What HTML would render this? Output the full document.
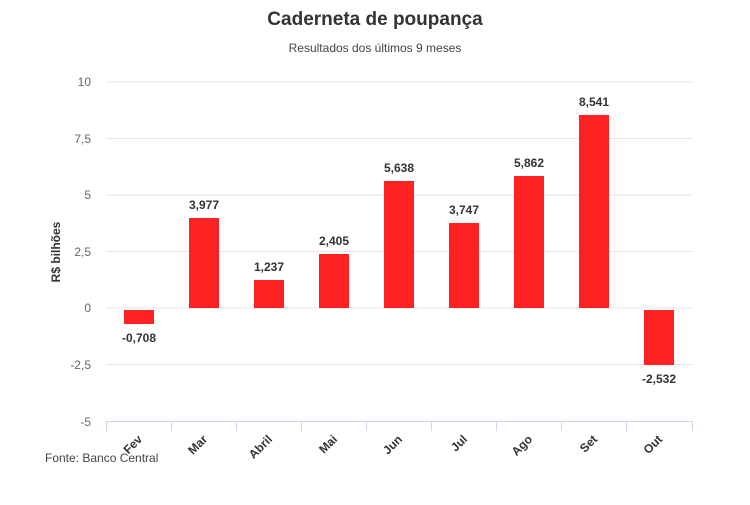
<!DOCTYPE html>
<html><head><meta charset="utf-8"><style>
body{margin:0;background:#fff;}
svg text{font-family:"Liberation Sans",sans-serif;}
</style></head><body>
<svg width="750" height="500" xmlns="http://www.w3.org/2000/svg">
<text x="375" y="25" text-anchor="middle" font-size="19" font-weight="bold" fill="#333">Caderneta de poupança</text>
<text x="375" y="52" text-anchor="middle" font-size="12" fill="#444">Resultados dos últimos 9 meses</text>
<g stroke="#e6e6e6" stroke-width="1">
<line x1="106" x2="693" y1="82" y2="82"/>
<line x1="106" x2="693" y1="138.5" y2="138.5"/>
<line x1="106" x2="693" y1="195" y2="195"/>
<line x1="106" x2="693" y1="251.5" y2="251.5"/>
<line x1="106" x2="693" y1="308" y2="308"/>
<line x1="106" x2="693" y1="364.5" y2="364.5"/>
</g>
<g stroke="#ccd6eb" stroke-width="1">
<line x1="106" x2="693" y1="421.5" y2="421.5"/>
<line x1="106.5" x2="106.5" y1="421" y2="431"/>
<line x1="171.5" x2="171.5" y1="421" y2="431"/>
<line x1="236.5" x2="236.5" y1="421" y2="431"/>
<line x1="301.5" x2="301.5" y1="421" y2="431"/>
<line x1="366.5" x2="366.5" y1="421" y2="431"/>
<line x1="431.5" x2="431.5" y1="421" y2="431"/>
<line x1="496.5" x2="496.5" y1="421" y2="431"/>
<line x1="561.5" x2="561.5" y1="421" y2="431"/>
<line x1="626.5" x2="626.5" y1="421" y2="431"/>
<line x1="692.5" x2="692.5" y1="421" y2="431"/>
</g>
<g font-size="12" fill="#666" text-anchor="end">
<text x="91" y="86">10</text>
<text x="91" y="143">7,5</text>
<text x="91" y="199">5</text>
<text x="91" y="256">2,5</text>
<text x="91" y="312">0</text>
<text x="91" y="369">-2,5</text>
<text x="91" y="426">-5</text>
</g>
<text transform="translate(60,252) rotate(-90)" text-anchor="middle" font-size="12" font-weight="bold" fill="#333">R$ bilhões</text>
<g fill="#ff2222">
<rect x="124" y="310" width="30" height="14"/>
<rect x="189" y="218" width="30" height="90"/>
<rect x="254" y="280" width="30" height="28"/>
<rect x="319" y="254" width="30" height="54"/>
<rect x="384" y="181" width="30" height="127"/>
<rect x="449" y="223" width="30" height="85"/>
<rect x="514" y="176" width="30" height="132"/>
<rect x="579" y="115" width="30" height="193"/>
<rect x="644" y="310" width="30" height="55"/>
</g>
<g font-size="12" font-weight="bold" fill="#333" text-anchor="middle">
<text x="139" y="342">-0,708</text>
<text x="204" y="209">3,977</text>
<text x="269" y="271">1,237</text>
<text x="334" y="245">2,405</text>
<text x="399" y="172">5,638</text>
<text x="464" y="214">3,747</text>
<text x="529" y="167">5,862</text>
<text x="594" y="106">8,541</text>
<text x="659" y="383">-2,532</text>
</g>
<g font-size="12" font-weight="bold" fill="#333" text-anchor="end">
<text transform="translate(143,440) rotate(-45)">Fev</text>
<text transform="translate(208,440) rotate(-45)">Mar</text>
<text transform="translate(273,440) rotate(-45)">Abril</text>
<text transform="translate(338,440) rotate(-45)">Mai</text>
<text transform="translate(403,440) rotate(-45)">Jun</text>
<text transform="translate(468,440) rotate(-45)">Jul</text>
<text transform="translate(533,440) rotate(-45)">Ago</text>
<text transform="translate(598,440) rotate(-45)">Set</text>
<text transform="translate(663,440) rotate(-45)">Out</text>
</g>
<text x="45" y="462" font-size="12" fill="#444">Fonte: Banco Central</text>
</svg>
</body></html>
